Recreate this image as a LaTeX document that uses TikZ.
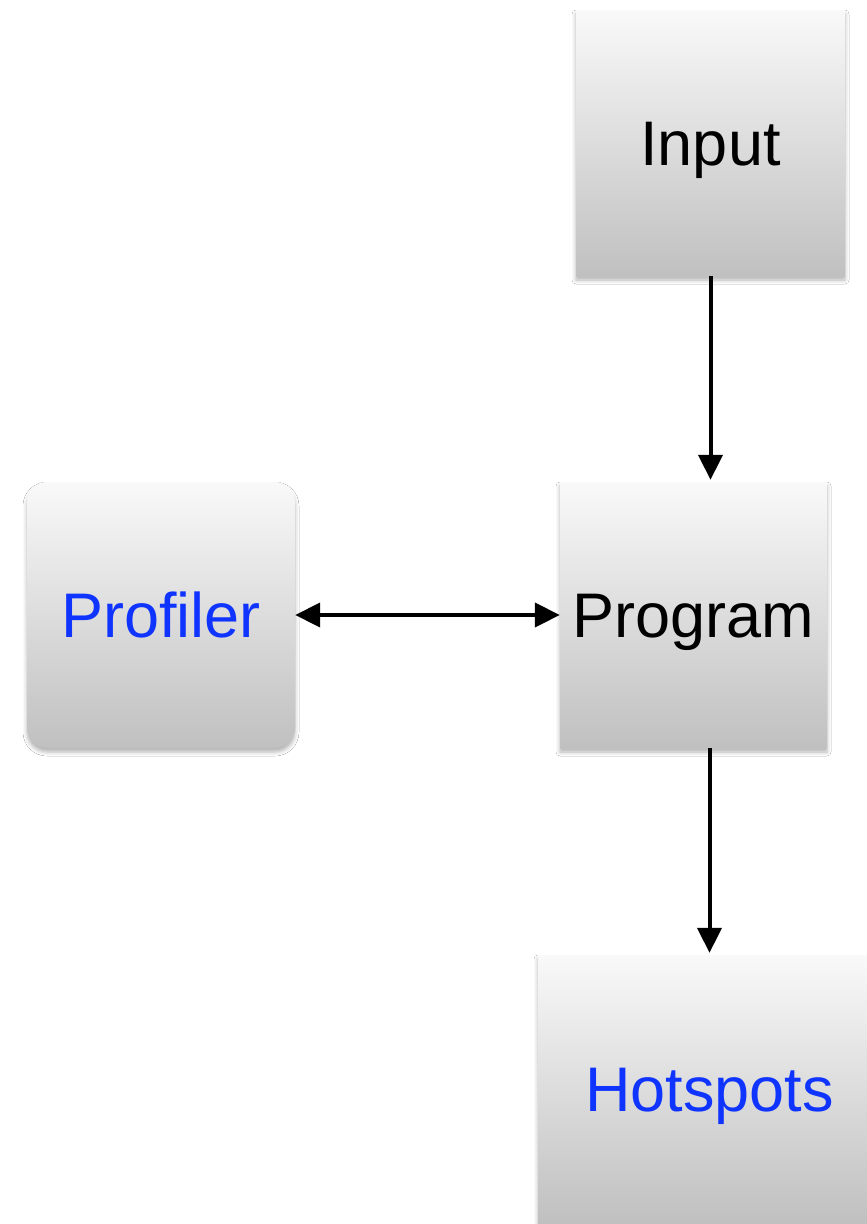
\documentclass[tikz,border=0pt]{standalone}
\usepackage{fontspec}
\setmainfont{Liberation Sans}
\usetikzlibrary{arrows.meta,shadows.blur}
\definecolor{boxtop}{RGB}{249,249,249}
\definecolor{boxbot}{RGB}{192,192,192}
\definecolor{linkblue}{RGB}{16,52,255}
\tikzset{
  block/.style={rectangle, inner sep=0pt, top color=boxtop, bottom color=boxbot,
    draw=none, font=\fontsize{63}{70}\selectfont, text height=45pt, text depth=0pt,
    blur shadow={shadow xshift=0pt, shadow yshift=-4pt, shadow blur radius=4pt, shadow opacity=30}},
  flow/.style={line width=4pt, -{Triangle[length=25pt,width=24pt]}},
  twoway/.style={line width=4pt, {Triangle[length=25pt,width=24pt]}-{Triangle[length=25pt,width=24pt]}}
}
\begin{document}
\begin{tikzpicture}[x=1pt,y=-1pt]
\useasboundingbox[fill=white] (0,0) rectangle (867,1224);
\node[block, minimum width=269pt, minimum height=266pt] (input) at (710.5,143) {Input};
\node[block, minimum width=267pt, minimum height=266pt] (program) at (693.5,615) {Program};
\node[block, rounded corners=20pt, minimum width=268pt, minimum height=266pt, text=linkblue] (profiler) at (161,615) {Profiler};
\node[block, minimum width=343pt, minimum height=268pt, text=linkblue] (hotspots) at (709.5,1089) {Hotspots};
\draw[flow, shorten >=2pt] (input.south) -- (input.south |- program.north);
\draw[flow, shorten >=2pt] (hotspots.north |- program.south) -- (hotspots.north);
\draw[twoway] (profiler.east) -- (program.west);
\end{tikzpicture}
\end{document}
